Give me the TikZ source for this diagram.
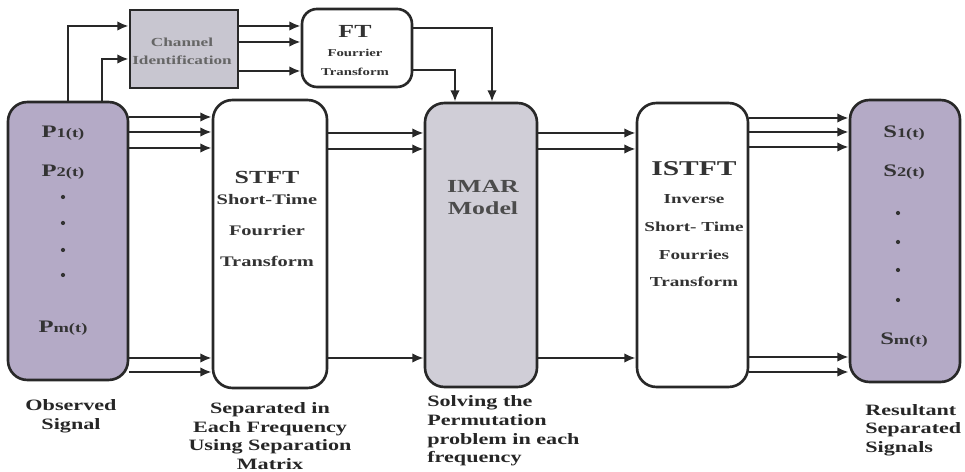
\documentclass[tikz,border=0pt]{standalone}
\usepackage{xcolor}
\usepackage{fontspec}
\setmainfont{Liberation Serif}[FakeStretch=1.4]
\usetikzlibrary{arrows.meta, positioning}

\definecolor{sigfill}{RGB}{180,170,198}
\definecolor{imarfill}{RGB}{208,206,215}
\definecolor{chanfill}{RGB}{200,198,208}
\definecolor{linegray}{RGB}{40,40,40}
\newcommand{\signame}[2]{#1{\fontsize{7.5}{9}\selectfont #2(t)}}

\begin{document}
\begin{tikzpicture}[x=0.02cm,y=-0.02cm,
    blk/.style={draw=linegray,line width=1.5pt,rounded corners=11pt,inner sep=0pt},
    flow/.style={draw=linegray,line width=1.5pt,-{Latex[length=6.5pt,width=5.5pt]}},
    txt/.style={inner sep=0pt,text=black!80},
    bigtxt/.style={txt,font=\bfseries\fontsize{10.5}{12}\selectfont},
    smalltxt/.style={txt,font=\bfseries\fontsize{7.8}{9}\selectfont},
    tinytxt/.style={txt,font=\bfseries\fontsize{6}{7}\selectfont},
    lbl/.style={inner sep=0pt,text=black!85,font=\bfseries\fontsize{9}{10.6}\selectfont}]
  \useasboundingbox (0,0) rectangle (965,472);

  % blocks
  \node[blk,fill=sigfill,minimum width=2.4cm,minimum height=5.56cm] (obs) at (68,241) {};
  \node[blk,fill=white,minimum width=2.28cm,minimum height=5.76cm] (stft) at (270,244) {};
  \node[blk,fill=imarfill,minimum width=2.24cm,minimum height=5.68cm] (imar) at (481,245) {};
  \node[blk,fill=white,minimum width=2.22cm,minimum height=5.68cm] (istft) at (692.5,245) {};
  \node[blk,fill=sigfill,minimum width=2.2cm,minimum height=5.64cm] (res) at (905,241) {};
  \node[blk,sharp corners,fill=chanfill,minimum width=2.16cm,minimum height=1.56cm] (chan) at (184,49) {};
  \node[blk,rounded corners=8.5pt,fill=white,minimum width=2.2cm,minimum height=1.56cm] (ft) at (357,48) {};

  % observed and resulting signals
  \begin{scope}[every node/.style={txt,font=\bfseries\fontsize{10}{12}\selectfont}]
    \node (p1) at (63,133) {\signame{P}{1}};
    \node (p2) at (63,172) {\signame{P}{2}};
    \node (pm) at (63,328) {\signame{P}{m}};
    \node (s1) at (904,133) {\signame{S}{1}};
    \node (s2) at (904,172) {\signame{S}{2}};
    \node (sm) at (904,340) {\signame{S}{m}};
  \end{scope}
  \foreach \y in {197,223,250,275} \fill[black!80] (63,\y) circle (1.2pt);
  \foreach \y in {213,242,270,300} \fill[black!80] (898,\y) circle (1.2pt);

  % block texts
  \node[txt,font=\bfseries\fontsize{7}{8}\selectfont,text=black!60] (chan1) at (182,42) {Channel};
  \node[txt,font=\bfseries\fontsize{7}{8}\selectfont,text=black!60] (chan2) at (182,60) {Identification};
  \node[bigtxt] (ft1) at (355,31) {FT};
  \node[tinytxt] (ft2) at (355,53) {Fourrier};
  \node[tinytxt] (ft3) at (355,72) {Transform};
  \node[bigtxt] (stft1) at (267,177) {STFT};
  \node[smalltxt,font=\bfseries\fontsize{8.3}{9}\selectfont] (stft2) at (267,200) {Short-Time};
  \node[smalltxt,font=\bfseries\fontsize{8.3}{9}\selectfont] (stft3) at (267,231) {Fourrier};
  \node[smalltxt,font=\bfseries\fontsize{8.3}{9}\selectfont] (stft4) at (267,261) {Transform};
  \node[bigtxt,text=black!70] (imar1) at (483,186) {IMAR};
  \node[bigtxt,text=black!70] (imar2) at (483,208) {Model};
  \node[txt,font=\bfseries\fontsize{12}{14}\selectfont] (istft1) at (694,169) {ISTFT};
  \node[smalltxt] (istft2) at (694,199) {Inverse};
  \node[smalltxt] (istft3) at (694,227) {Short- Time};
  \node[smalltxt] (istft4) at (694,255) {Fourries};
  \node[smalltxt] (istft5) at (694,282) {Transform};

  % captions
  \node[lbl,align=center] (obslbl) at (71,416) {Observed\\Signal};
  \node[lbl,align=center] (seplbl) at (270,436) {Separated in\\Each Frequency\\Using Separation\\Matrix};
  \node[lbl,align=left,anchor=west] (sollbl) at (427,431) {Solving the\\Permutation\\problem in each\\frequency};
  \node[lbl,align=left,anchor=west] (reslbl) at (865,430) {Resultant\\Separated\\Signals};

  % connectors
  \draw[flow] (obs.north -| 68,0) |- (chan.west |- 0,26);
  \draw[flow] (obs.north -| 102,0) |- (chan.west |- 0,59);
  \foreach \y in {26,42,71} \draw[flow] (chan.east |- 0,\y) -- (ft.west |- 0,\y);
  \draw[flow] (ft.east |- 0,28) -| (imar.north -| 492,0);
  \draw[flow] (ft.east |- 0,70) -| (imar.north -| 455,0);
  \foreach \y in {117,132,148,358,372} \draw[flow] (obs.east |- 0,\y) -- (stft.west |- 0,\y);
  \foreach \y in {133,149,358} \draw[flow] (stft.east |- 0,\y) -- (imar.west |- 0,\y);
  \foreach \y in {133,149,358} \draw[flow] (imar.east |- 0,\y) -- (istft.west |- 0,\y);
  \foreach \y in {118,132,147,357,372} \draw[flow] (istft.east |- 0,\y) -- (res.west |- 0,\y);
\end{tikzpicture}
\end{document}
